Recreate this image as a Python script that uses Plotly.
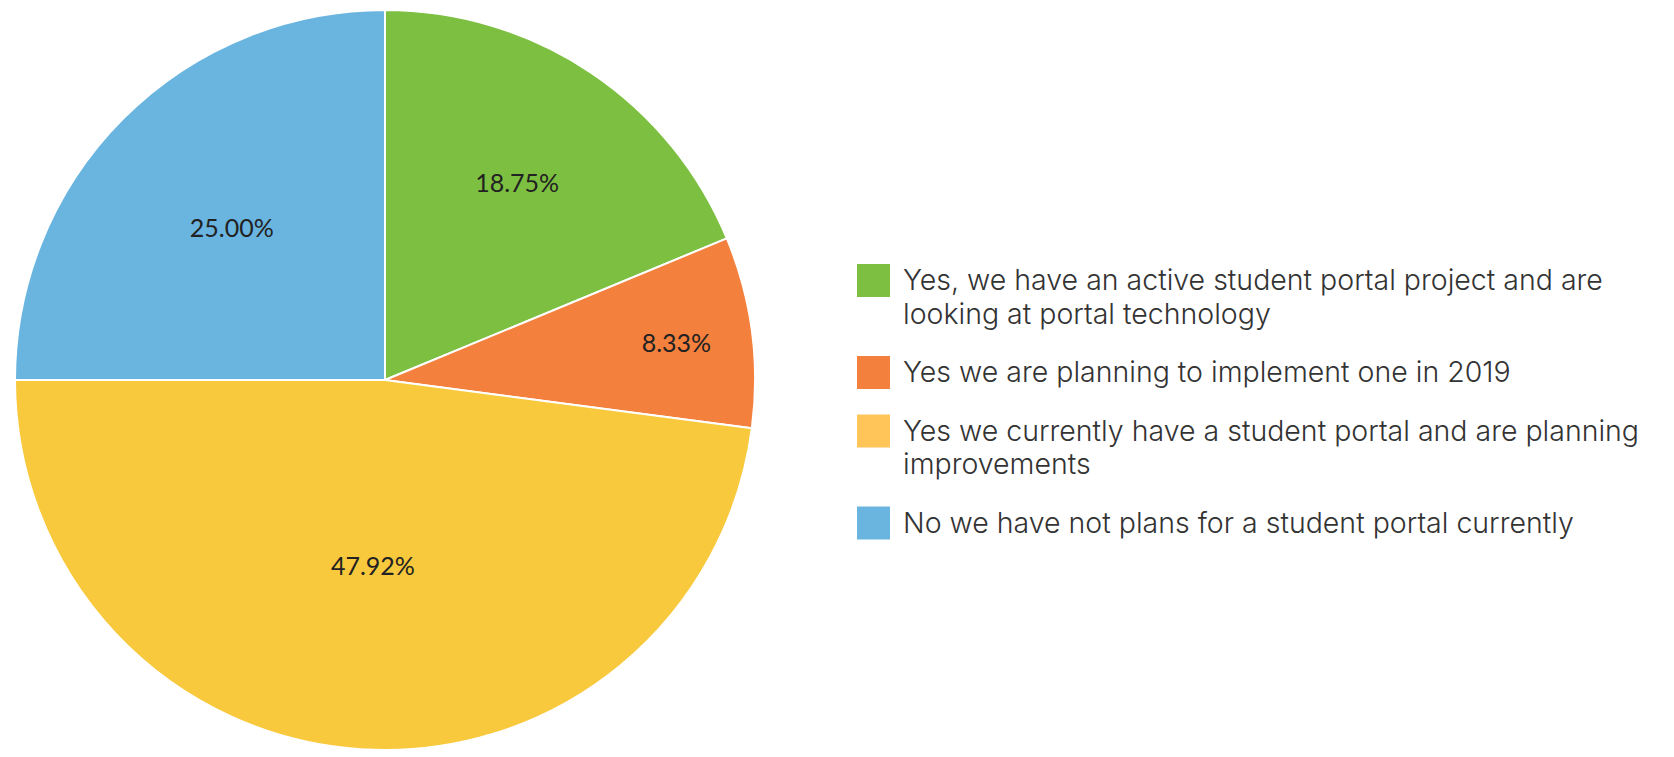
import plotly.graph_objects as go

# Survey responses: student portal plans
labels = [
    "Yes, we have an active student portal project and are<br>looking at portal technology",
    "Yes we are planning to implement one in 2019",
    "Yes we currently have a student portal and are planning<br>improvements",
    "No we have not plans for a student portal currently",
]
shares = [18.75, 8.33, 47.92, 25.00]

slice_colors = ["#7CBF41", "#F4803D", "#F8C93C", "#69B5E0"]
key_colors = ["#7CBF41", "#F4803D", "#FFC559", "#69B5E0"]

W, H = 1674, 757


def fx(px):
    return px / W


def fy(py):
    return 1 - py / H


fig = go.Figure(
    go.Pie(
        labels=[l.replace("<br>", " ") for l in labels],
        values=shares,
        sort=False,
        direction="clockwise",
        rotation=0,
        marker=dict(colors=slice_colors, line=dict(color="white", width=2)),
        texttemplate="%{value:.2f}%",
        textposition="inside",
        insidetextorientation="horizontal",
        textfont=dict(family="Lato", size=25, color="#222222"),
        domain=dict(x=[fx(15), fx(755)], y=[fy(750), fy(10)]),
        hoverinfo="label+value",
    )
)

# Hand-built key with large colour swatches; each text line placed on its own
shapes, annotations = [], []
key_font = dict(family="Inter", size=28.5, color="#333333", weight=300)
top = 264
sw = 33
line_h = 33.5
for lab, col in zip(labels, key_colors):
    lines = lab.split("<br>")
    shapes.append(dict(
        type="rect", xref="paper", yref="paper",
        x0=fx(857), x1=fx(857 + sw), y0=fy(top + sw), y1=fy(top),
        fillcolor=col, line=dict(width=0),
    ))
    for k, line in enumerate(lines):
        baseline = top + 25 + k * line_h
        annotations.append(dict(
            text=line, xref="paper", yref="paper",
            x=fx(901), y=fy(baseline - 0.33 * key_font["size"]),
            xanchor="left", yanchor="middle",
            align="left", showarrow=False, font=key_font,
        ))
    top += len(lines) * line_h + 25

fig.update_layout(
    width=W, height=H,
    margin=dict(l=0, r=0, t=0, b=0),
    paper_bgcolor="white", plot_bgcolor="white",
    showlegend=False,
    shapes=shapes, annotations=annotations,
)

fig.write_html("out.html")
